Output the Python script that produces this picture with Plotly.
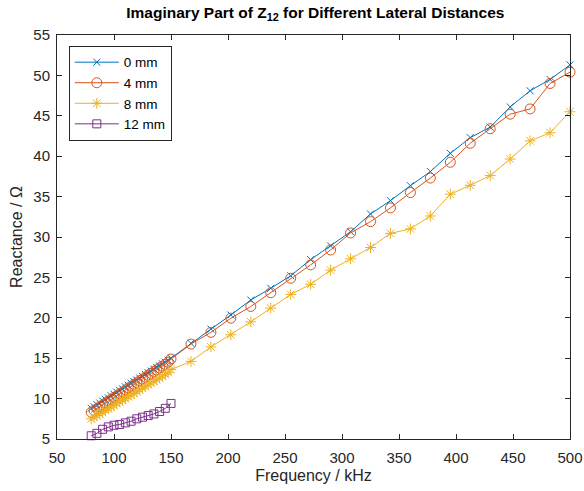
import plotly.graph_objects as go

# Frequency grid (kHz): fine sweep 80-150, coarse sweep 167.5-500
freq_fine = [80, 82.5, 85, 87.5, 90, 92.5, 95, 97.5, 100, 102.5, 105, 107.5, 110, 112.5, 115,
             117.5, 120, 122.5, 125, 127.5, 130, 132.5, 135, 137.5, 140, 142.5, 145, 147.5, 150]
freq_coarse = [167.5, 185, 202.5, 220, 237.5, 255, 272.5, 290, 307.5, 325, 342.5, 360,
               377.5, 395, 412.5, 430, 447.5, 465, 482.5, 500]
freq_12mm = [80, 85, 90, 95, 100, 105, 110, 115, 120, 125, 130, 135, 140, 145, 150]

# Reactance (Ohm)
x0_fine = [8.8, 9.0, 9.25, 9.45, 9.7, 9.9, 10.1, 10.35, 10.55, 10.8, 11.0, 11.2, 11.45, 11.65, 11.9,
           12.1, 12.3, 12.55, 12.75, 13.0, 13.2, 13.4, 13.65, 13.85, 14.05, 14.3, 14.5, 14.75, 15.0]
x0_coarse = [16.85, 18.6, 20.35, 22.2, 23.65, 25.2, 27.2, 28.9, 30.65, 32.85, 34.5, 36.35,
             38.1, 40.35, 42.3, 43.6, 46.1, 48.1, 49.5, 51.3]
x4_fine = [8.3, 8.55, 8.75, 9.0, 9.2, 9.45, 9.7, 9.9, 10.15, 10.35, 10.6, 10.8, 11.05, 11.3, 11.5,
           11.75, 11.95, 12.2, 12.4, 12.65, 12.9, 13.1, 13.35, 13.55, 13.8, 14.0, 14.25, 14.5, 14.9]
x4_coarse = [16.75, 18.2, 19.95, 21.4, 23.1, 24.9, 26.55, 28.4, 30.5, 31.9, 33.6, 35.5,
             37.3, 39.25, 41.6, 43.4, 45.2, 45.85, 49.0, 50.4]
x8_fine = [7.5, 7.7, 7.9, 8.1, 8.3, 8.55, 8.75, 8.95, 9.15, 9.4, 9.6, 9.8, 10.0, 10.25, 10.45,
           10.65, 10.85, 11.1, 11.3, 11.5, 11.7, 11.95, 12.15, 12.35, 12.55, 12.8, 13.0, 13.25, 13.6]
x8_coarse = [14.6, 16.4, 17.9, 19.5, 21.2, 22.9, 24.15, 25.9, 27.3, 28.7, 30.45, 31.0,
             32.6, 35.3, 36.4, 37.6, 39.65, 41.9, 42.9, 45.5]
x12 = [5.4, 5.7, 6.2, 6.5, 6.7, 6.8, 7.0, 7.2, 7.5, 7.7, 7.9, 8.1, 8.4, 8.8, 9.4]

x_ticks = [50, 100, 150, 200, 250, 300, 350, 400, 450, 500]
y_ticks = [5, 10, 15, 20, 25, 30, 35, 40, 45, 50, 55]

series = [
    ("0 mm", freq_fine + freq_coarse, x0_fine + x0_coarse, "#0072BD", "x-thin-open", 7),
    ("4 mm", freq_fine + freq_coarse, x4_fine + x4_coarse, "#D95319", "circle-open", 10),
    ("8 mm", freq_fine + freq_coarse, x8_fine + x8_coarse, "#EDB120", "asterisk-open", 9),
    ("12 mm", freq_12mm, x12, "#7E2F8E", "square-open", 8),
]

FONT = "Liberation Sans, Arial, sans-serif"

fig = go.Figure()
for name, fx, fy, color, symbol, size in series:
    fig.add_trace(go.Scatter(
        x=fx, y=fy, name=name, mode="lines+markers",
        line=dict(color=color, width=1),
        marker=dict(symbol=symbol, size=size, color=color, line=dict(color=color, width=1)),
        cliponaxis=False,
    ))

axis_common = dict(
    showgrid=False, zeroline=False, showline=True, linecolor="#262626", linewidth=1,
    mirror="ticks", ticks="inside", ticklen=5, tickcolor="#262626", automargin=False,
    tickfont=dict(family=FONT, size=15, color="#262626"),
)

fig.update_layout(
    width=584, height=491,
    margin=dict(l=57, r=14, t=35, b=52),
    paper_bgcolor="white", plot_bgcolor="white",
    title=dict(
        text="<b>Imaginary Part of Z<sub>12</sub> for Different Lateral Distances</b>",
        x=0.54, xanchor="center", y=0.985, yanchor="top",
        font=dict(family=FONT, size=15.5, color="black"),
    ),
    xaxis=dict(range=[50, 500], tickvals=x_ticks, ticklabelstandoff=5,
               title=dict(text="Frequency / kHz", standoff=4,
                          font=dict(family=FONT, size=16, color="#262626")),
               **axis_common),
    yaxis=dict(range=[5, 55], tickvals=y_ticks, ticklabelstandoff=3,
               title=dict(text="Reactance / Ω", standoff=6,
                          font=dict(family=FONT, size=16, color="#262626")),
               **axis_common),
    legend=dict(
        x=0.023, y=0.973, xanchor="left", yanchor="top",
        bgcolor="white", bordercolor="#262626", borderwidth=1,
        font=dict(family=FONT, size=13.5, color="black"),
        itemwidth=44, tracegroupgap=0,
    ),
    showlegend=True,
)

fig.write_html("out.html")
